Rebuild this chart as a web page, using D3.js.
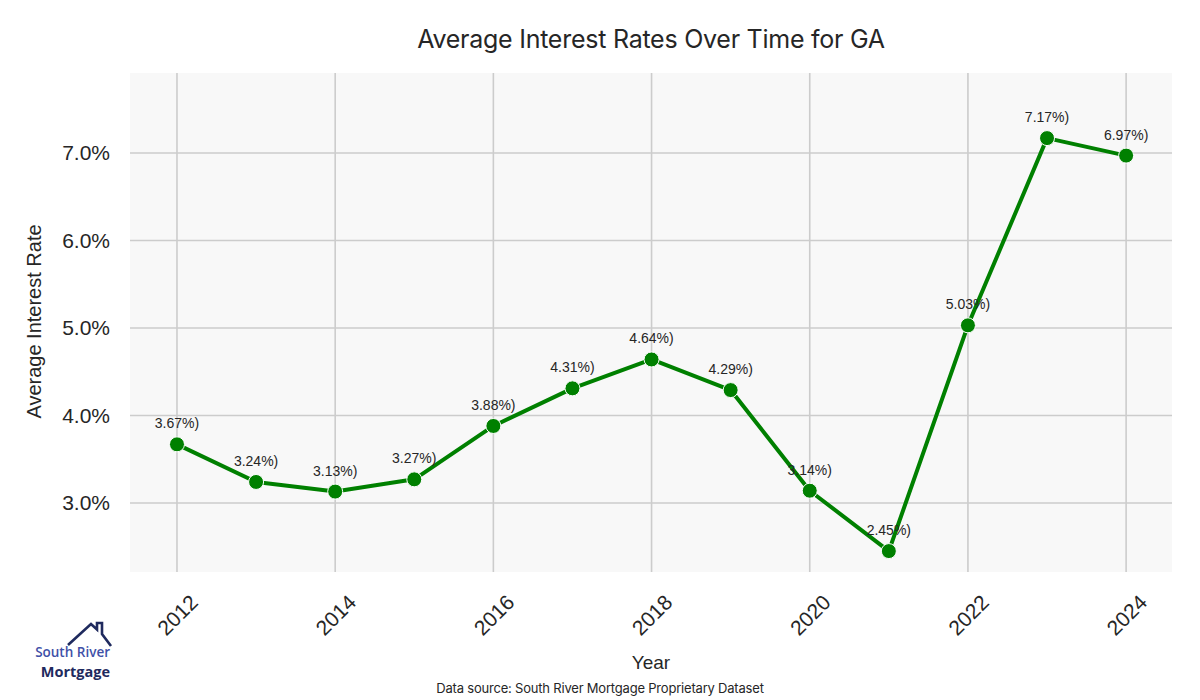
<!DOCTYPE html>
<html>
<head>
<meta charset="utf-8">
<script src="https://cdn.jsdelivr.net/npm/d3@7"></script>
<style>
  body { margin: 0; background: #ffffff; }
  svg { display: block; }
</style>
</head>
<body>
<div id="chart"></div>
<script>
// data
var years = [2012, 2013, 2014, 2015, 2016, 2017, 2018, 2019, 2020, 2021, 2022, 2023, 2024];
var rates = [3.67, 3.24, 3.13, 3.27, 3.88, 4.31, 4.64, 4.29, 3.14, 2.45, 5.03, 7.17, 6.97];
var xTicks = [2012, 2014, 2016, 2018, 2020, 2022, 2024];
var yTicks = [3, 4, 5, 6, 7];

var W = 1200, H = 700;
var margin = {top: 73, right: 28, bottom: 128, left: 130},
    width = W - margin.left - margin.right,
    height = H - margin.top - margin.bottom;

var data = years.map(function(y, i) { return {year: y, rate: rates[i]}; });

var svgRoot = d3.select("#chart")
  .append("svg")
    .attr("width", W)
    .attr("height", H);

var svg = svgRoot.append("g")
    .attr("transform", "translate(" + margin.left + "," + margin.top + ")");

// plot background
svg.append("rect")
  .attr("width", width)
  .attr("height", height)
  .attr("fill", "#f8f8f8");

var x = d3.scaleLinear()
  .domain([2011.406, 2024.58])
  .range([0, width]);

var y = d3.scaleLinear()
  .domain([2.211, 7.914])
  .range([height, 0]);

// grid lines
svg.append("g")
  .selectAll("line")
  .data(xTicks)
  .enter().append("line")
    .attr("x1", function(d) { return x(d); })
    .attr("x2", function(d) { return x(d); })
    .attr("y1", 0)
    .attr("y2", height)
    .attr("stroke", "#cccccc")
    .attr("stroke-width", 1.6);

svg.append("g")
  .selectAll("line")
  .data(yTicks)
  .enter().append("line")
    .attr("x1", 0)
    .attr("x2", width)
    .attr("y1", function(d) { return y(d); })
    .attr("y2", function(d) { return y(d); })
    .attr("stroke", "#cccccc")
    .attr("stroke-width", 1.6);

// X axis (labels only, rotated)
var xAxis = svg.append("g")
  .attr("transform", "translate(0," + height + ")")
  .call(d3.axisBottom(x).tickValues(xTicks).tickFormat(d3.format("d")).tickSize(0));
xAxis.select(".domain").remove();
xAxis.selectAll("text")
  .attr("font-family", "Liberation Sans, Arial, sans-serif")
  .attr("font-size", "21px")
  .attr("fill", "#262626")
  .attr("text-anchor", "middle")
  .attr("dy", null)
  .attr("y", 0)
  .attr("dominant-baseline", "central")
  .attr("transform", "translate(0,43) rotate(-45)");

// Y axis
var yAxis = svg.append("g")
  .call(d3.axisLeft(y).tickValues(yTicks).tickFormat(function(d) { return d.toFixed(1) + "%"; }).tickSize(0));
yAxis.select(".domain").remove();
yAxis.selectAll("text")
  .attr("font-family", "Liberation Sans, Arial, sans-serif")
  .attr("font-size", "21px")
  .attr("fill", "#262626")
  .attr("x", -20);

// axis labels
svgRoot.append("text")
  .attr("text-anchor", "middle")
  .attr("x", margin.left + width / 2)
  .attr("y", 669)
  .attr("font-family", "Liberation Sans, Arial, sans-serif")
  .attr("font-size", "19px")
  .attr("fill", "#262626")
  .text("Year");

svgRoot.append("text")
  .attr("text-anchor", "middle")
  .attr("transform", "translate(41," + (margin.top + height / 2 - 1) + ") rotate(-90)")
  .attr("font-family", "Liberation Sans, Arial, sans-serif")
  .attr("font-size", "20px")
  .attr("fill", "#262626")
  .text("Average Interest Rate");

// title
svgRoot.append("text")
  .attr("text-anchor", "middle")
  .attr("x", margin.left + width / 2)
  .attr("y", 48)
  .attr("font-family", "Inter, sans-serif")
  .attr("font-size", "25px")
  .attr("letter-spacing", "-0.25px")
  .attr("fill", "#262626")
  .text("Average Interest Rates Over Time for GA");

// the line
svg.append("path")
  .datum(data)
  .attr("fill", "none")
  .attr("stroke", "#008000")
  .attr("stroke-width", 4)
  .attr("stroke-linejoin", "round")
  .attr("d", d3.line()
    .x(function(d) { return x(d.year); })
    .y(function(d) { return y(d.rate); })
  );

// markers
svg.append("g")
  .selectAll("circle")
  .data(data)
  .enter().append("circle")
    .attr("cx", function(d) { return x(d.year); })
    .attr("cy", function(d) { return y(d.rate); })
    .attr("r", 7.5)
    .attr("fill", "#008000")
    .attr("stroke", "#ffffff")
    .attr("stroke-width", 1);

// value labels
svg.append("g")
  .selectAll("text")
  .data(data)
  .enter().append("text")
    .attr("x", function(d) { return x(d.year); })
    .attr("y", function(d) { return y(d.rate) - 16; })
    .attr("text-anchor", "middle")
    .attr("font-family", "Liberation Sans, Arial, sans-serif")
    .attr("font-size", "14px")
    .attr("fill", "#262626")
    .text(function(d) { return d.rate.toFixed(2) + "%)"; });

// source note
svgRoot.append("text")
  .attr("text-anchor", "middle")
  .attr("x", 600)
  .attr("y", 693)
  .attr("font-family", "Inter, sans-serif")
  .attr("font-size", "13px")
  .attr("letter-spacing", "-0.2px")
  .attr("fill", "#262626")
  .text("Data source: South River Mortgage Proprietary Dataset");

// logo
var logo = svgRoot.append("g");
logo.append("path")
  .attr("d", "M68,645 L91,624 L97,629.5 L97,623 L102,623 L102,634 L111,646")
  .attr("fill", "none")
  .attr("stroke", "#1f2a5e")
  .attr("stroke-width", 2.6)
  .attr("stroke-linejoin", "miter");
logo.append("text")
  .attr("x", 110)
  .attr("y", 657)
  .attr("text-anchor", "end")
  .attr("font-family", "Open Sans, sans-serif")
  .attr("font-weight", 600)
  .attr("font-size", "13.5px")
  .attr("letter-spacing", "0px")
  .attr("fill", "#3f51a8")
  .text("South River");
logo.append("text")
  .attr("x", 110)
  .attr("y", 677)
  .attr("text-anchor", "end")
  .attr("font-family", "Open Sans, sans-serif")
  .attr("font-weight", 700)
  .attr("font-size", "14.5px")
  .attr("letter-spacing", "0px")
  .attr("fill", "#1f2a5e")
  .text("Mortgage");
</script>
</body>
</html>
